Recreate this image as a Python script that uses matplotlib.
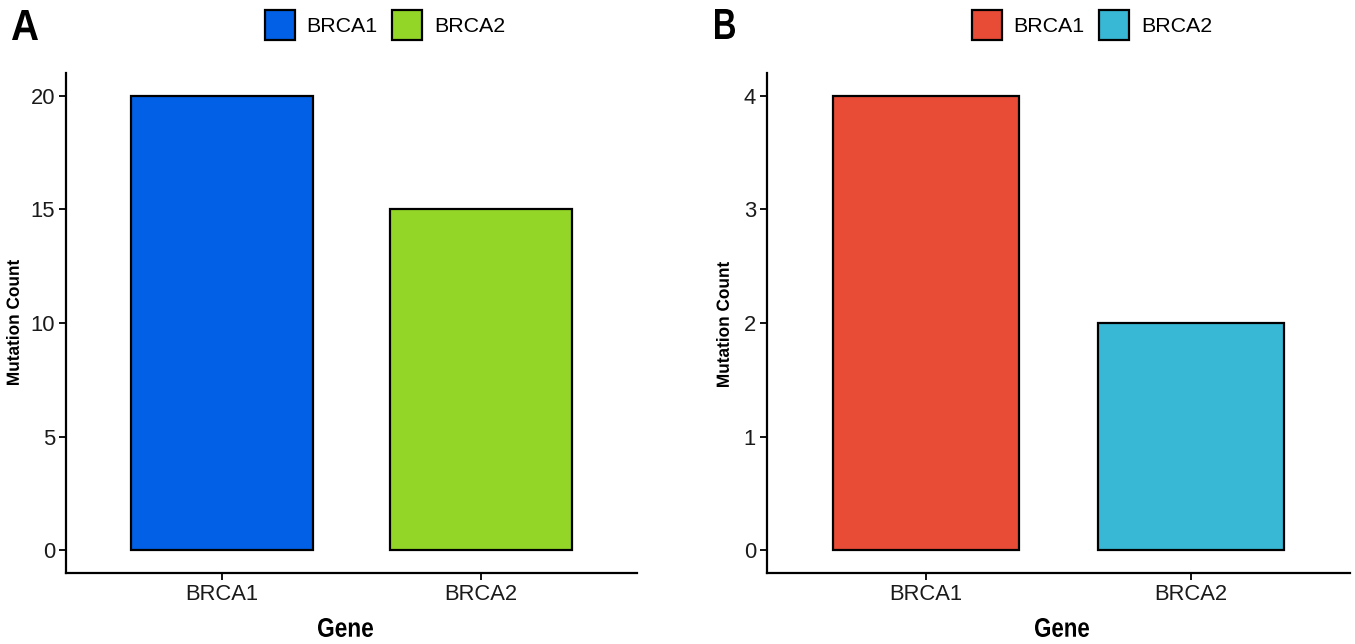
import matplotlib
matplotlib.use("Agg")
import matplotlib.pyplot as plt
from matplotlib.patches import Patch, PathPatch
from matplotlib.textpath import TextPath
from matplotlib.font_manager import FontProperties
from matplotlib.transforms import Affine2D, IdentityTransform

genes = ["BRCA1", "BRCA2"]
counts_a = [20, 15]
counts_b = [4, 2]
colors_a = ["#0160E6", "#94D628"]
colors_b = ["#E84B36", "#39B8D5"]
yticks_a = [0, 5, 10, 15, 20]
yticks_b = [0, 1, 2, 3, 4]

W, H = 1355, 644
fig = plt.figure(figsize=(W / 100, H / 100), dpi=100)
plt.rcParams['font.family'] = ['Liberation Sans', 'DejaVu Sans']
boldprop = FontProperties(family=['Liberation Sans', 'DejaVu Sans'], weight='bold')


def fit_text(s, x0, x1, ytop, ybot, rotate=False):
    """Draw condensed bold text fitted into a pixel box (image coords, y down)."""
    path = TextPath((0, 0), s, size=40, prop=boldprop)
    if rotate:
        path = path.transformed(Affine2D().rotate_deg(90))
    ext = path.get_extents()
    by0, by1 = H - ybot, H - ytop
    tr = (Affine2D().translate(-ext.x0, -ext.y0)
          .scale((x1 - x0) / ext.width, (by1 - by0) / ext.height)
          .translate(x0, by0))
    patch = PathPatch(path.transformed(tr), facecolor="black", edgecolor="none",
                      transform=IdentityTransform())
    fig.add_artist(patch)


def panel(left_px, right_px, counts, colors, yticks, leg_cx):
    top_px, bot_px = 73, 573
    ax = fig.add_axes([left_px / W, (H - bot_px) / H, (right_px - left_px) / W, (bot_px - top_px) / H])
    x = list(range(1, len(genes) + 1))
    ax.bar(x, counts, width=0.7, color=colors, edgecolor="black", linewidth=1.6)
    ymax = max(yticks)
    ax.set_ylim(-0.05 * ymax, 1.05 * ymax)
    ax.set_xlim(0.4, len(genes) + 0.6)
    ax.set_xticks(x)
    ax.set_xticklabels(genes, fontsize=15.8, color="#1a1a1a")
    ax.set_yticks(yticks)
    ax.set_yticklabels([str(v) for v in yticks], fontsize=15.8, color="#1a1a1a")
    for s in ["top", "right"]:
        ax.spines[s].set_visible(False)
    for s in ["left", "bottom"]:
        ax.spines[s].set_linewidth(1.6)
    ax.tick_params(axis="both", length=5, width=1.3, pad=3)
    handles = [Patch(facecolor=c, edgecolor="black", linewidth=1.6, label=g) for g, c in zip(genes, colors)]
    fig.legend(handles=handles, loc="center", bbox_to_anchor=(leg_cx / W, 1 - 25 / H), ncol=2,
               frameon=False, fontsize=15.4, handlelength=1.4, handleheight=1.8,
               handletextpad=0.55, columnspacing=0.7, borderaxespad=0)
    return ax


panel(66, 637, counts_a, colors_a, yticks_a, 385)
panel(767, 1350, counts_b, colors_b, yticks_b, 1092)

# panel tags and axis titles (bold condensed)
fit_text("A", 12, 38, 10, 40)
fit_text("B", 715, 735, 9, 39)
fit_text("Gene", 318, 373, 618, 637)
fit_text("Gene", 1035, 1089, 618, 637)
fit_text("Mutation Count", 6, 19, 260, 385, rotate=True)
fit_text("Mutation Count", 716, 729, 262, 387, rotate=True)

fig.savefig("out.png", dpi=100, facecolor="white")
